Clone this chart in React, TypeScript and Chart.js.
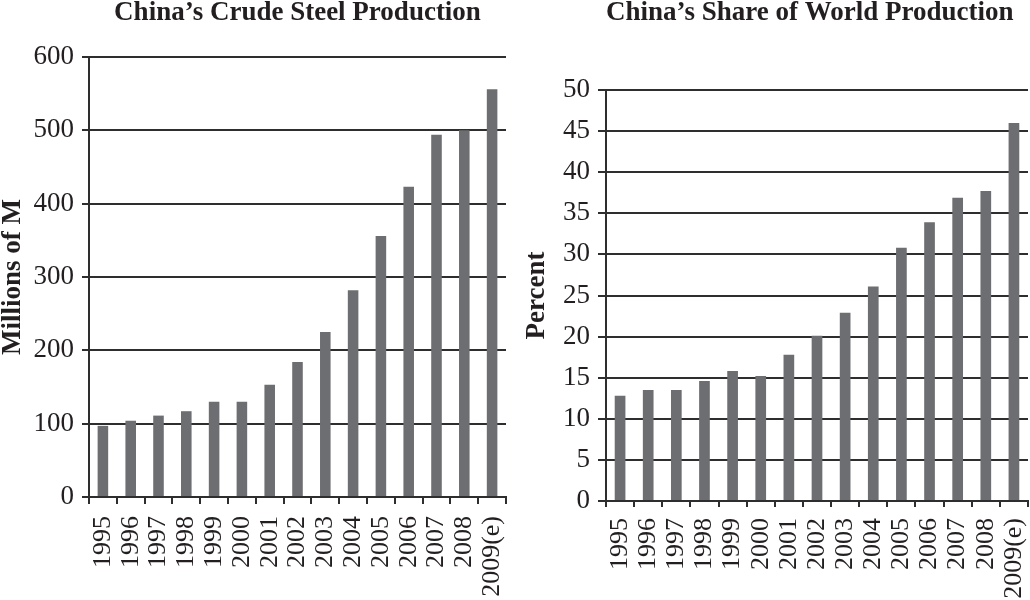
import React, { useEffect, useRef } from 'react';
import { Chart, registerables } from 'chart.js';

Chart.register(...registerables);

// ---- Data ----
const years = ['1995', '1996', '1997', '1998', '1999', '2000', '2001', '2002', '2003', '2004', '2005', '2006', '2007', '2008', '2009(e)'];
const steelProduction = [97, 104, 111, 117, 130, 130, 153, 184, 225, 282, 356, 423, 494, 500, 556];
const worldShare = [12.8, 13.5, 13.5, 14.6, 15.8, 15.2, 17.8, 20.1, 22.9, 26.1, 30.8, 33.9, 36.9, 37.7, 46.0];
const steelAxis = { min: 0, max: 600, step: 100 };
const shareAxis = { min: 0, max: 50, step: 5 };
const leftTitle = 'China\u2019s Crude Steel Production';
const rightTitle = 'China\u2019s Share of World Production';
const leftYTitle = 'Millions of M';
const rightYTitle = 'Percent';

const FONT = "'Liberation Serif', 'DejaVu Serif', serif";
const INK = '#231f20';
const LINE = '#2e2e2e';
const BAR = '#6d6e71';

type Layout = {
  yWidth: number;
  xHeight: number;
  padRight: number;
  titleGap: number;
  titleAlign: 'start' | 'center' | 'end';
  yTitlePad: number;
  yTickLen: number;
  xTickLen: number;
  xTickPad: number;
};

function makeConfig(
  values: number[],
  axis: { min: number; max: number; step: number },
  title: string,
  yTitle: string,
  L: Layout
): any {
  return {
    type: 'bar',
    data: {
      labels: years,
      datasets: [
        {
          data: values,
          backgroundColor: BAR,
          borderWidth: 0,
          categoryPercentage: 1,
          barPercentage: 0.38,
        },
      ],
    },
    options: {
      responsive: false,
      animation: false,
      layout: { padding: { left: 0, right: L.padRight, top: 0, bottom: 0 } },
      plugins: {
        legend: { display: false },
        tooltip: { enabled: false },
        title: {
          display: true,
          text: title,
          fullSize: false,
          align: L.titleAlign,
          color: INK,
          font: { family: FONT, size: 27, weight: 'bold', lineHeight: 1 },
          padding: { top: 0, bottom: L.titleGap },
        },
      },
      scales: {
        x: {
          offset: true,
          grid: {
            display: true,
            drawOnChartArea: false,
            drawTicks: true,
            offset: true,
            tickLength: L.xTickLen,
            color: LINE,
            lineWidth: 2,
          },
          border: { display: true, color: LINE, width: 2 },
          ticks: {
            autoSkip: false,
            minRotation: 90,
            maxRotation: 90,
            padding: L.xTickPad,
            color: INK,
            font: { family: FONT, size: 26 },
          },
          afterFit: (scale: any) => {
            scale.height = L.xHeight;
            scale.paddingLeft = 0;
            scale.paddingRight = 0;
          },
        },
        y: {
          min: axis.min,
          max: axis.max,
          grid: {
            color: LINE,
            lineWidth: 2,
            drawTicks: true,
            tickLength: L.yTickLen,
            tickColor: LINE,
            tickWidth: 2,
          },
          border: { display: true, color: LINE, width: 2 },
          ticks: {
            stepSize: axis.step,
            padding: 8,
            color: INK,
            font: { family: FONT, size: 27 },
          },
          title: {
            display: true,
            text: yTitle,
            color: INK,
            font: { family: FONT, size: 27, weight: 'bold', lineHeight: 1 },
            padding: { top: L.yTitlePad, bottom: 0 },
          },
          afterFit: (scale: any) => {
            scale.width = L.yWidth;
          },
        },
      },
    },
  };
}

function BarPanel(props: {
  values: number[];
  axis: { min: number; max: number; step: number };
  title: string;
  yTitle: string;
  layout: Layout;
  left: number;
}) {
  const ref = useRef<HTMLCanvasElement | null>(null);
  useEffect(() => {
    if (!ref.current) return;
    const chart = new Chart(ref.current, makeConfig(props.values, props.axis, props.title, props.yTitle, props.layout));
    return () => chart.destroy();
  }, []);
  return (
    <div style={{ position: 'absolute', left: props.left, top: 0, width: 515, height: 600 }}>
      <canvas ref={ref} width={515} height={600} style={{ display: 'block', width: 515, height: 600 }} />
    </div>
  );
}

export default function App() {
  const leftLayout: Layout = {
    yWidth: 89,
    xHeight: 103,
    padRight: 9,
    titleGap: 30,
    titleAlign: 'center',
    yTitlePad: 0,
    yTickLen: 7,
    xTickLen: 7,
    xTickPad: 12,
  };
  const rightLayout: Layout = {
    yWidth: 91,
    xHeight: 99,
    padRight: 2,
    titleGap: 63,
    titleAlign: 'start',
    yTitlePad: 9,
    yTickLen: 8,
    xTickLen: 6,
    xTickPad: 11,
  };
  return (
    <div style={{ position: 'fixed', left: 0, top: 0, width: 1030, height: 600, background: '#ffffff', overflow: 'hidden' }}>
      <BarPanel values={steelProduction} axis={steelAxis} title={leftTitle} yTitle={leftYTitle} layout={leftLayout} left={0} />
      <BarPanel values={worldShare} axis={shareAxis} title={rightTitle} yTitle={rightYTitle} layout={rightLayout} left={515} />
    </div>
  );
}
